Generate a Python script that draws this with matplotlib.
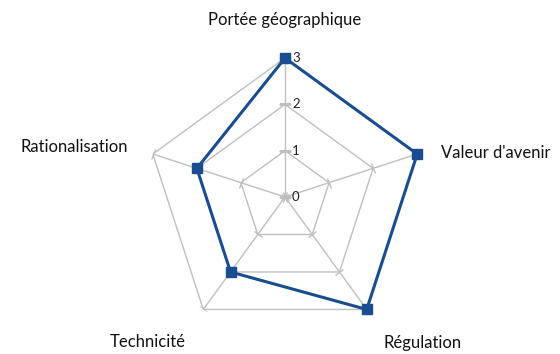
import numpy as np
import matplotlib
matplotlib.use("Agg")
import matplotlib.pyplot as plt
from matplotlib.markers import MarkerStyle
from matplotlib.transforms import Affine2D

categories = ["Portée géographique", "Valeur d'avenir", "Régulation", "Technicité", "Rationalisation"]
values = [3, 3, 3, 2, 2]
levels = [0, 1, 2, 3]
tick_labels = ["0", "1", "2", "3"]

plt.rcParams['font.family'] = ['Lato', 'DejaVu Sans']

W, H = 560, 354
fig = plt.figure(figsize=(W / 100, H / 100), dpi=100)
cx, cy, R = 285, 197, 139
ax = fig.add_axes([(cx - R) / W, (H - cy - R) / H, 2 * R / W, 2 * R / H], projection='polar')
ax.set_theta_offset(np.pi / 2)
ax.set_theta_direction(-1)
ax.set_ylim(0, 3)
ax.axis('off')

n = len(categories)
angles = np.arange(n) * 2 * np.pi / n
grid_col = '#bfbfbf'

# polygon gridlines
for lv in levels[1:]:
    ax.plot(np.append(angles, angles[0]), [lv] * (n + 1), color=grid_col, lw=1.0, zorder=1)
# spokes with tick marks
for a in angles:
    ax.plot([a, a], [0, levels[-1]], color=grid_col, lw=1.0, zorder=1)
    m = MarkerStyle('_', transform=Affine2D().rotate_deg(-np.degrees(a)))
    ax.plot([a] * len(levels), levels, linestyle='none', marker=m, markersize=8,
            markeredgewidth=1.0, color=grid_col, zorder=1)

# value labels along first axis
for lv, lab in zip(levels, tick_labels):
    ax.annotate(lab, xy=(0, lv), xytext=(5, 0), textcoords='offset points',
                ha='left', va='center', fontsize=9.5, color='#222222')

# data
ang_c = np.append(angles, angles[0])
val_c = values + values[:1]
ax.plot(ang_c, val_c, color='#1a4d8f', lw=2.2, zorder=3, clip_on=False)
ax.plot(angles, values, linestyle='none', marker='s', markersize=7, color='#1a4d8f',
        zorder=4, clip_on=False)

# category labels (figure pixel positions)
lab_pos = [(285, 20, 'center'), (441, 153, 'left'), (423, 343, 'center'),
           (148, 342, 'center'), (128, 147, 'right')]
for c, (x, y, ha) in zip(categories, lab_pos):
    fig.text(x / W, 1 - y / H, c, ha=ha, va='center', fontsize=12, color='#111111')

fig.savefig('out.png', dpi=100)
